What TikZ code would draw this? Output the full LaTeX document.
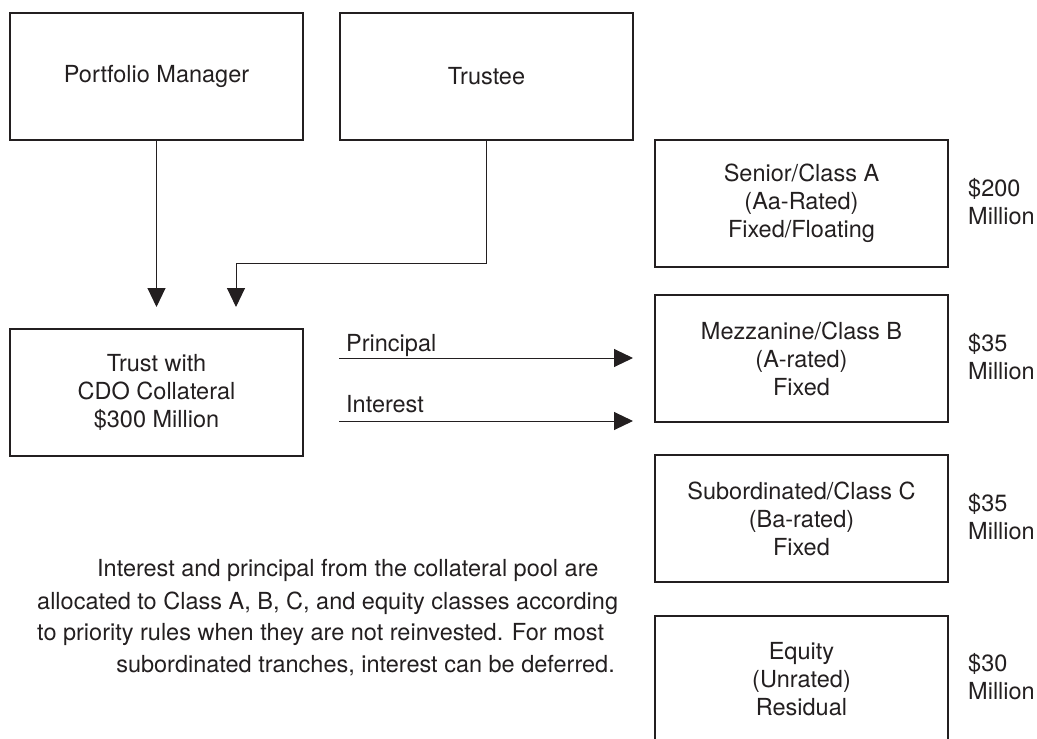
\documentclass[tikz,border=0pt]{standalone}
\usepackage{fontspec}
\setmainfont{TeX Gyre Heros}
\usetikzlibrary{arrows.meta}
\definecolor{ink}{RGB}{35,31,32}
\begin{document}
\begin{tikzpicture}[x=1pt,y=-1pt,
  every node/.style={text=ink, font=\fontsize{23.5}{28}\selectfont},
  box/.style={draw=ink, line width=2pt, rectangle, minimum width=293pt,
              minimum height=127pt, inner sep=0pt, align=center},
  amount/.style={anchor=west, align=left, inner sep=0pt},
  flow/.style={draw=ink, line width=1pt, -{Triangle[length=19pt,width=18pt]}},
  label/.style={inner sep=0pt}]
\useasboundingbox (0,0) rectangle (1037,739);
\clip (0,0) rectangle (1037,739);

% parties
\node[box] (pm)      at (156.5,76)  {Portfolio Manager};
\node[box] (trustee) at (486.5,76)  {Trustee};
\node[box] (trust)   at (156.5,392) {Trust with\\CDO Collateral\\\$300 Million};

% tranches
\node[box] (senior) at (801.5,203)   {Senior/Class A\\(Aa-Rated)\\Fixed/Floating};
\node[box] (mezz)   at (801.5,358.5) {Mezzanine/Class B\\(A-rated)\\Fixed};
\node[box] (sub)    at (801.5,518.5) {Subordinated/Class C\\(Ba-rated)\\Fixed};
\node[box] (equity) at (801.5,679)   {Equity\\(Unrated)\\Residual};

% tranche sizes
\node[amount] (amtA) at (968,202) {\$200\\Million};
\node[amount] (amtB) at (968,357) {\$35\\Million};
\node[amount] (amtC) at (968,517) {\$35\\Million};
\node[amount] (amtE) at (968,677) {\$30\\Million};

% flows into the trust
\coordinate (in1)  at (156.5,307);
\coordinate (bend) at (236,263);
\coordinate (in2)  at (236,307);
\draw[flow] (pm.south) -- (in1);
\draw[flow] (trustee.south) |- (bend) -- (in2);

% payments out of the trust
\coordinate (p0) at (339,358);
\coordinate (p1) at (633,358);
\coordinate (i0) at (339,421);
\coordinate (i1) at (633,421);
\draw[flow] (p0) -- (p1);
\draw[flow] (i0) -- (i1);
\node[label, anchor=base west] (lp) at (346,351) {Principal};
\node[label, anchor=base west] (li) at (346,412) {Interest};

% explanatory note
\node[label, anchor=base west] (n1) at (97,576) {Interest and principal from the collateral pool are};
\node[label, anchor=base west] (n2) at (37,609) {allocated to Class A, B, C, and equity classes according};
\node[label, anchor=base west] (n3) at (37,640) {to priority rules when they are not reinvested. For most};
\node[label, anchor=base east] (n4) at (615,672) {subordinated tranches, interest can be deferred.};
\end{tikzpicture}
\end{document}
